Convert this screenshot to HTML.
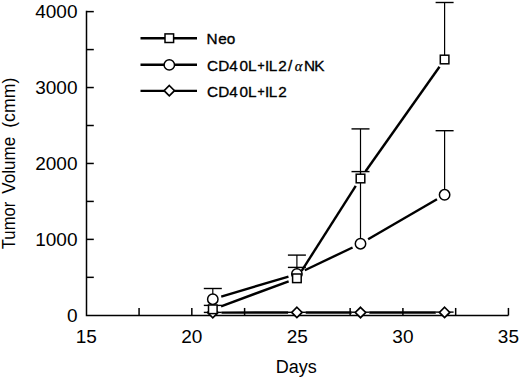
<!DOCTYPE html>
<html><head><meta charset="utf-8"><style>
html,body{margin:0;padding:0;background:#fff;}
body{width:520px;height:378px;overflow:hidden;}
svg{display:block;}
text{font-family:"Liberation Sans",sans-serif;fill:#000;}
.tk{font-size:19px;}
.al{font-family:"Liberation Serif",serif;font-style:italic;font-size:14.5px;stroke-width:0.25px;}
.lg{font-size:15.3px;stroke:#000;stroke-width:0.35px;}
.ax{font-size:18px;}
</style></head><body>
<svg width="520" height="378" viewBox="0 0 520 378">
<rect width="520" height="378" fill="#fff"/>
<g stroke="#000" stroke-width="1.5" fill="none">
<path d="M86.5 10.87 V315.45 H508.44"/>
<line x1="86.5" y1="277.34" x2="93.8" y2="277.34"/>
<line x1="86.5" y1="239.38" x2="93.8" y2="239.38"/>
<line x1="86.5" y1="201.42" x2="93.8" y2="201.42"/>
<line x1="86.5" y1="163.46" x2="93.8" y2="163.46"/>
<line x1="86.5" y1="125.50" x2="93.8" y2="125.50"/>
<line x1="86.5" y1="87.54" x2="93.8" y2="87.54"/>
<line x1="86.5" y1="49.58" x2="93.8" y2="49.58"/>
<line x1="86.5" y1="11.62" x2="93.8" y2="11.62"/>
<line x1="139.07" y1="315.45" x2="139.07" y2="307.95"/>
<line x1="191.83" y1="315.45" x2="191.83" y2="307.95"/>
<line x1="244.60" y1="315.45" x2="244.60" y2="307.95"/>
<line x1="297.37" y1="315.45" x2="297.37" y2="307.95"/>
<line x1="350.14" y1="315.45" x2="350.14" y2="307.95"/>
<line x1="402.91" y1="315.45" x2="402.91" y2="307.95"/>
<line x1="455.67" y1="315.45" x2="455.67" y2="307.95"/>
<line x1="508.44" y1="315.45" x2="508.44" y2="307.95"/>
</g>
<g stroke="#000" stroke-width="1.2" fill="none">
<line x1="212.8" y1="309.3" x2="212.8" y2="305.4"/>
<line x1="203.8" y1="305.4" x2="221.8" y2="305.4" stroke-width="1.4"/>
<line x1="296.9" y1="278.3" x2="296.9" y2="255.1"/>
<line x1="287.9" y1="255.1" x2="305.9" y2="255.1" stroke-width="1.4"/>
<line x1="360.5" y1="178.5" x2="360.5" y2="128.9"/>
<line x1="351.5" y1="128.9" x2="369.5" y2="128.9" stroke-width="1.4"/>
<line x1="444.6" y1="59.5" x2="444.6" y2="2.5"/>
<line x1="435.6" y1="2.5" x2="453.6" y2="2.5" stroke-width="1.4"/>
<line x1="212.8" y1="299.2" x2="212.8" y2="288.5"/>
<line x1="203.8" y1="288.5" x2="221.8" y2="288.5" stroke-width="1.4"/>
<line x1="296.9" y1="274.0" x2="296.9" y2="267.4"/>
<line x1="287.9" y1="267.4" x2="305.9" y2="267.4" stroke-width="1.4"/>
<line x1="360.5" y1="243.7" x2="360.5" y2="171.6"/>
<line x1="351.5" y1="171.6" x2="369.5" y2="171.6" stroke-width="1.4"/>
<line x1="444.6" y1="194.8" x2="444.6" y2="130.7"/>
<line x1="435.6" y1="130.7" x2="453.6" y2="130.7" stroke-width="1.4"/>
<line x1="212.8" y1="312.6" x2="212.8" y2="312.4"/>
<line x1="203.8" y1="312.4" x2="221.8" y2="312.4" stroke-width="1.4"/>
<line x1="296.9" y1="312.45" x2="296.9" y2="312.3"/>
<line x1="287.9" y1="312.3" x2="305.9" y2="312.3" stroke-width="1.4"/>
<line x1="360.5" y1="312.5" x2="360.5" y2="312.2"/>
<line x1="351.5" y1="312.2" x2="369.5" y2="312.2" stroke-width="1.4"/>
<line x1="444.6" y1="312.45" x2="444.6" y2="312.1"/>
<line x1="435.6" y1="312.1" x2="453.6" y2="312.1" stroke-width="1.4"/>
</g>
<g stroke="#000" stroke-width="2.4" fill="none">
<line x1="221.06" y1="306.26" x2="288.64" y2="281.34"/>
<line x1="301.63" y1="270.88" x2="355.77" y2="185.92"/>
<line x1="365.58" y1="171.31" x2="439.52" y2="66.69"/>
<line x1="221.23" y1="296.67" x2="288.47" y2="276.53"/>
<line x1="304.84" y1="270.22" x2="352.56" y2="247.48"/>
<line x1="368.11" y1="239.28" x2="436.99" y2="199.22"/>
<line x1="221.60" y1="312.58" x2="288.10" y2="312.47"/>
<line x1="305.70" y1="312.46" x2="351.70" y2="312.49"/>
<line x1="369.30" y1="312.49" x2="435.80" y2="312.46"/>
</g>
<g stroke="#000" stroke-width="1.5" fill="#fff">
<path d="M212.8 307.40000000000003 L218.0 312.6 L212.8 317.8 L207.60000000000002 312.6 Z" stroke-width="1.7"/>
<path d="M296.9 307.25 L302.09999999999997 312.45 L296.9 317.65 L291.7 312.45 Z" stroke-width="1.7"/>
<path d="M360.5 307.3 L365.7 312.5 L360.5 317.7 L355.3 312.5 Z" stroke-width="1.7"/>
<path d="M444.6 307.25 L449.8 312.45 L444.6 317.65 L439.40000000000003 312.45 Z" stroke-width="1.7"/>
<circle cx="212.8" cy="299.2" r="5.2"/>
<circle cx="296.9" cy="274.0" r="5.2"/>
<circle cx="360.5" cy="243.7" r="5.2"/>
<circle cx="444.6" cy="194.8" r="5.2"/>
<rect x="208.5" y="305.0" width="8.6" height="8.6"/>
<rect x="292.59999999999997" y="274.0" width="8.6" height="8.6"/>
<rect x="356.2" y="174.2" width="8.6" height="8.6"/>
<rect x="440.3" y="55.2" width="8.6" height="8.6"/>
</g>
<g stroke="#000" stroke-width="2.4">
<line x1="140.5" y1="38.3" x2="197" y2="38.3"/>
<line x1="140.5" y1="64.7" x2="197" y2="64.7"/>
<line x1="140.5" y1="90.9" x2="197" y2="90.9"/>
</g>
<g stroke="#000" stroke-width="1.5" fill="#fff">
<rect x="165.0" y="33.900000000000006" width="8.6" height="8.6"/>
<circle cx="169.3" cy="64.9" r="5.2"/>
<path d="M169.3 85.5 L174.5 90.7 L169.3 95.9 L164.10000000000002 90.7 Z" stroke-width="1.7"/>
</g>
<g class="tk"><text x="77.5" y="322.25" text-anchor="end">0</text><text x="77.5" y="246.12" text-anchor="end">1000</text><text x="77.5" y="169.99" text-anchor="end">2000</text><text x="77.5" y="93.86" text-anchor="end">3000</text><text x="77.5" y="17.73" text-anchor="end">4000</text><text x="86.30" y="342.6" text-anchor="middle">15</text><text x="191.83" y="342.6" text-anchor="middle">20</text><text x="297.37" y="342.6" text-anchor="middle">25</text><text x="402.91" y="342.6" text-anchor="middle">30</text><text x="508.44" y="342.6" text-anchor="middle">35</text></g>
<g class="ax">
<text x="296.3" y="372.6" text-anchor="middle">Days</text>
<g transform="translate(15.4 0) rotate(-90)">
<text x="-249.2" textLength="47.5" lengthAdjust="spacingAndGlyphs">Tumor</text>
<text x="-193.7" textLength="56.9" lengthAdjust="spacingAndGlyphs">Volume</text>
<text x="-127.8" textLength="50.3" lengthAdjust="spacingAndGlyphs">(cmm)</text>
</g>
</g>
<g class="lg">
<text x="206.45 218.35 226.86" y="44.3">Neo</text>
<text y="70.7"><tspan x="207.1 218.35 229.15 239.4 247.95">CD40L</tspan><tspan x="257.55" dy="-0.9" font-size="12.2px">+</tspan><tspan x="265.0 268.8 278.2 288.0" dy="0.9">IL2/</tspan><tspan x="294.7" class="al">α</tspan><tspan x="303.95 314.35">NK</tspan></text>
<text y="96.6"><tspan x="207.1 218.35 229.15 239.4 247.95">CD40L</tspan><tspan x="257.55" dy="-0.9" font-size="12.2px">+</tspan><tspan x="265.0 268.8 278.2" dy="0.9">IL2</tspan></text>
</g>
</svg>
</body></html>
